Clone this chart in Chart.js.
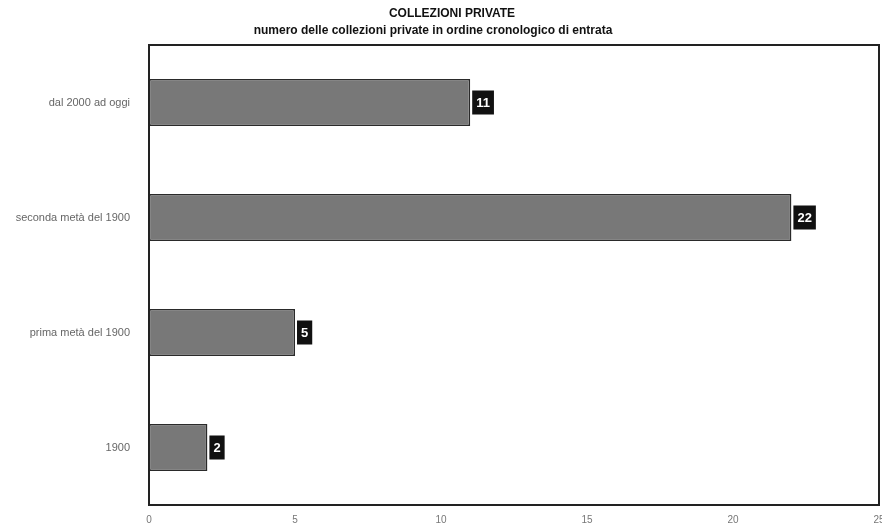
<!DOCTYPE html>
<html>
<head>
<meta charset="utf-8">
<title>Collezioni private</title>
<script src="https://cdn.jsdelivr.net/npm/chart.js@4"></script>
<style>
  html, body { margin: 0; padding: 0; background: #fff; overflow: hidden; }
  #wrap { width: 882px; height: 532px; position: relative; }
</style>
</head>
<body>
<div id="wrap"><canvas id="chart"></canvas></div>
<script>
// Periods, top to bottom
const periods = ["dal 2000 ad oggi", "seconda metà del 1900", "prima metà del 1900", "1900"];
// Number of private collections per period
const counts = [11, 22, 5, 2];
const axisTicks = [0, 5, 10, 15, 20, 25];

const FONT = "'Liberation Sans', Arial, sans-serif";

// Titles, frame round the plot and value boxes at the end of each bar
const decorations = {
  id: "decorations",
  afterDraw(chart) {
    const ctx = chart.ctx;
    const area = chart.chartArea;
    ctx.save();

    ctx.fillStyle = "#111";
    ctx.textAlign = "center";
    ctx.textBaseline = "middle";
    ctx.font = "bold 12px " + FONT;
    ctx.fillText("COLLEZIONI PRIVATE", 452, 14);
    ctx.fillText("numero delle collezioni private in ordine cronologico di entrata", 433, 31);

    ctx.strokeStyle = "#222";
    ctx.lineWidth = 2;
    ctx.strokeRect(area.left, area.top, area.right - area.left, area.bottom - area.top);

    const meta = chart.getDatasetMeta(0);
    ctx.font = "bold 13px " + FONT;
    meta.data.forEach((bar, i) => {
      const txt = String(counts[i]);
      const w = ctx.measureText(txt).width + 8;
      const h = 24;
      const x = bar.x + 2;
      ctx.fillStyle = "#111";
      ctx.fillRect(x, bar.y - h / 2, w, h);
      ctx.fillStyle = "#fff";
      ctx.fillText(txt, x + w / 2, bar.y + 1);
    });
    ctx.restore();
  }
};

new Chart(document.getElementById("chart"), {
  type: "bar",
  data: {
    labels: periods,
    datasets: [{
      data: counts,
      backgroundColor: "#787878",
      borderColor: "#2a2a2a",
      borderWidth: 1.5,
      borderSkipped: false,
      categoryPercentage: 1,
      barPercentage: 0.41
    }]
  },
  options: {
    indexAxis: "y",
    responsive: true,
    maintainAspectRatio: false,
    animation: false,
    layout: { padding: { top: 45, right: 3, left: 0, bottom: 0 } },
    plugins: {
      legend: { display: false },
      tooltip: { enabled: false }
    },
    scales: {
      x: {
        min: 0,
        max: 25,
        afterBuildTicks(scale) {
          scale.ticks = axisTicks.map(v => ({ value: v }));
        },
        afterFit(scale) {
          scale.height = 27;
          // let the last label run off the edge instead of shrinking the plot
          scale.paddingRight = 0;
          scale.paddingLeft = 0;
        },
        grid: { display: false, drawTicks: true, tickLength: 3 },
        border: { display: false },
        ticks: {
          color: "#777",
          font: { family: FONT, size: 10 },
          padding: 6,
          maxRotation: 0
        }
      },
      y: {
        afterFit(scale) { scale.width = 149; },
        grid: { display: false },
        border: { display: false },
        ticks: {
          color: "#666",
          font: { family: FONT, size: 11 },
          padding: 11
        }
      }
    }
  },
  plugins: [decorations]
});
</script>
</body>
</html>
